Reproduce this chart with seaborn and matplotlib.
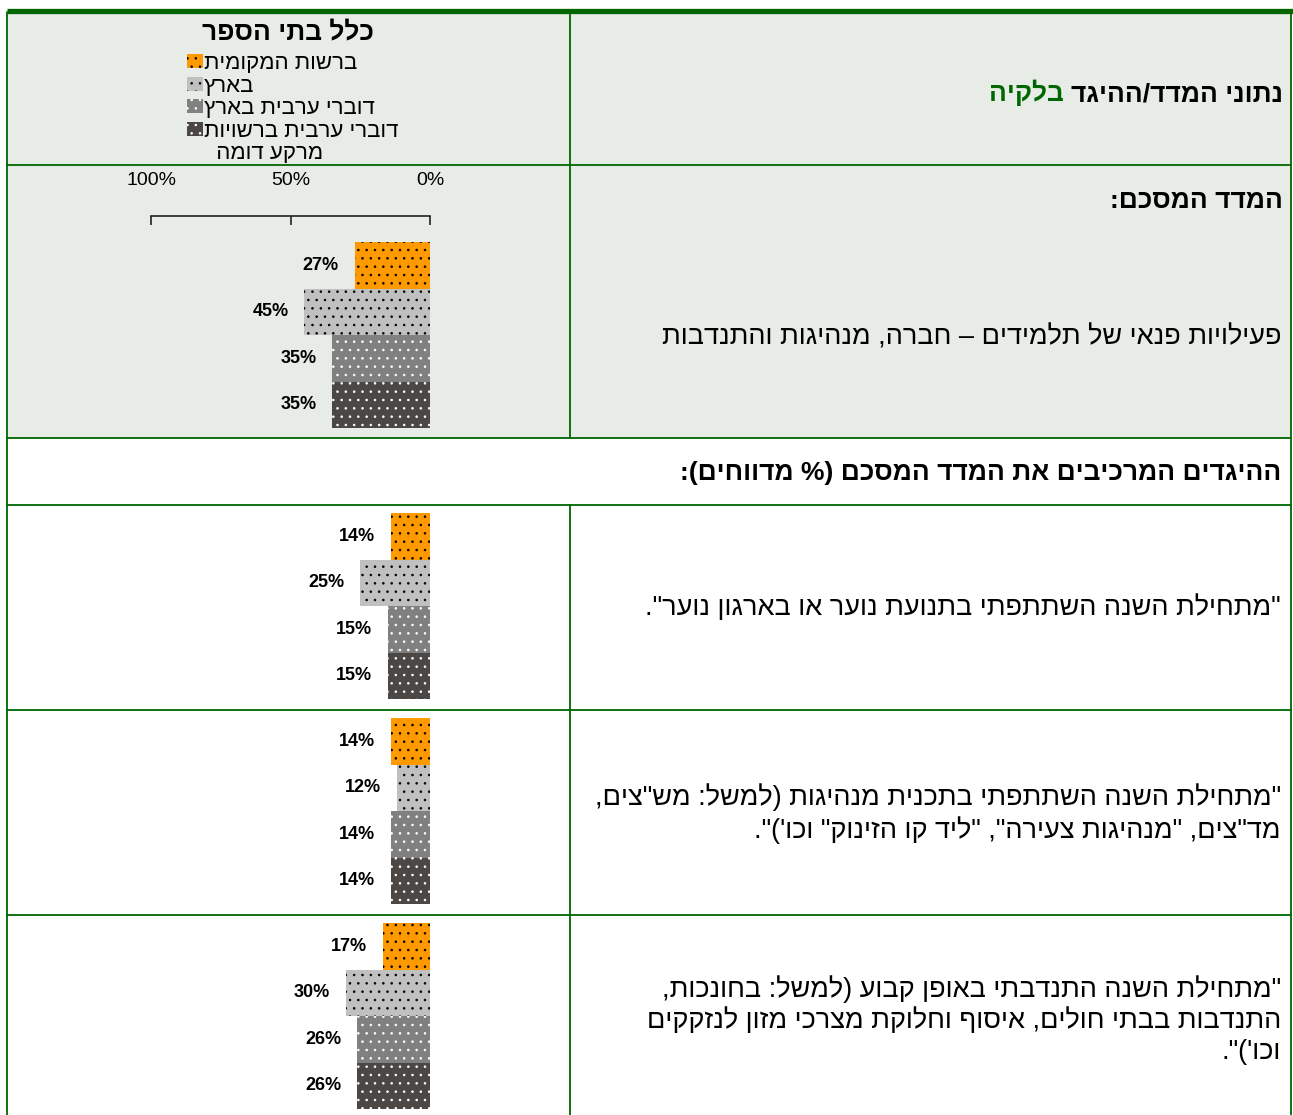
import matplotlib.pyplot as plt
from matplotlib.patches import Patch, Rectangle
import seaborn as sns
import pandas as pd

# --- data ---
groups = ['ברשות המקומית', 'בארץ', 'דוברי ערבית בארץ', 'דוברי ערבית ברשויות מרקע דומה']
legend_lines = ['ברשות המקומית', 'בארץ', 'דוברי ערבית בארץ', 'דוברי ערבית ברשויות', 'מרקע דומה']
bar_colors = ['#FF9900', '#C0C0C0', '#808080', '#4B4744']
dot_colors = ['black', 'black', 'white', 'white']

summary_values = [27, 45, 35, 35]
youth_values = [14, 25, 15, 15]
leader_values = [14, 12, 14, 14]
volunteer_values = [17, 30, 26, 26]

x_ticks = [100, 50, 0]
x_tick_labels = ['100%', '50%', '0%']

legend_title = 'כלל בתי הספר'
header_text = 'נתוני המדד/ההיגד'
header_town = 'בלקיה'
summary_title = 'המדד המסכם:'
summary_name = 'פעילויות פנאי של תלמידים – חברה, מנהיגות והתנדבות'
items_title = 'ההיגדים המרכיבים את המדד המסכם (% מדווחים):'
item_texts = [
    '"מתחילת השנה השתתפתי בתנועת נוער או בארגון נוער".',
    '"מתחילת השנה השתתפתי בתכנית מנהיגות (למשל: מש"צים,\nמד"צים, "מנהיגות צעירה", "ליד קו הזינוק" וכו\')".',
    '"מתחילת השנה התנדבתי באופן קבוע (למשל: בחונכות,\nהתנדבות בבתי חולים, איסוף וחלוקת מצרכי מזון לנזקקים\nוכו\')".',
]

GREEN = '#006600'
BG = '#E7ECE6'
W, H = 1293, 1115


def heb(s):
    # matplotlib has no bidi: reverse each line and mirror brackets
    swap = str.maketrans('()', ')(')
    return '\n'.join(line[::-1].translate(swap) for line in s.split('\n'))


sns.set_style('white')
plt.rcParams['font.family'] = ['Liberation Sans', 'DejaVu Sans']
plt.rcParams['text.color'] = 'black'
plt.rcParams['xtick.color'] = 'black'
plt.rcParams['hatch.linewidth'] = 0.6

fig = plt.figure(figsize=(W / 100, H / 100), dpi=100)

# background axes in pixel units for the table
ax0 = fig.add_axes([0, 0, 1, 1])
ax0.set_xlim(0, W)
ax0.set_ylim(H, 0)
ax0.axis('off')

ax0.add_patch(Rectangle((7, 13), 1291 - 7, 438 - 13, color=BG, lw=0))
ax0.plot([7, W], [10.5, 10.5], color=GREEN, lw=3.8, solid_capstyle='butt')
for y in [165, 438, 505, 710, 915]:
    ax0.plot([7, 1291], [y, y], color=GREEN, lw=1.3)
for x in [7, 1291]:
    ax0.plot([x, x], [12, H], color=GREEN, lw=1.3)
ax0.plot([570, 570], [12, 438], color=GREEN, lw=1.3)
ax0.plot([570, 570], [505, H], color=GREEN, lw=1.3)

# right column texts
t = ax0.text(1283, 106, heb(header_text), ha='right', va='bottom', fontsize=19, fontweight='bold')
ax0.annotate(heb(header_town), xy=(0, 0), xycoords=t, xytext=(-5, 0), textcoords='offset points',
             ha='right', va='bottom', fontsize=19, fontweight='bold', color=GREEN)
ax0.text(1283, 201, heb(summary_title), ha='right', va='center', fontsize=19, fontweight='bold')
ax0.text(1281, 337, heb(summary_name), ha='right', va='center', fontsize=19.5)
ax0.text(1281, 473, heb(items_title), ha='right', va='center', fontsize=19, fontweight='bold')
for yc, txt in zip([608, 814, 1020], item_texts):
    ax0.text(1281, yc, heb(txt), ha='right', va='center', fontsize=19.5,
             multialignment='right', linespacing=1.23)

# legend block
ax0.text(288, 32, heb(legend_title), ha='center', va='center', fontsize=19, fontweight='bold')
handles = [Patch(facecolor=c, edgecolor=d, hatch='..', linewidth=0) for c, d in zip(bar_colors, dot_colors)]
handles.append(Patch(facecolor='none', edgecolor='none'))
labels = [heb(s) for s in legend_lines]
labels[-1] = '  ' + labels[-1]
ax0.legend(handles, labels, loc='upper left', bbox_to_anchor=(187, 53), bbox_transform=ax0.transData,
           frameon=False, fontsize=16, handlelength=0.72, handleheight=0.6, handletextpad=0.03,
           labelspacing=0.07, borderpad=0, borderaxespad=0)


def px_axes(x0, y0, x1, y1):
    return fig.add_axes([x0 / W, 1 - y1 / H, (x1 - x0) / W, (y1 - y0) / H])


def draw_bars(ax, values):
    df = pd.DataFrame({'group': groups, 'value': values})
    sns.barplot(data=df, x='value', y='group', hue='group', palette=bar_colors, saturation=1,
                width=1.0, orient='h', legend=False, ax=ax)
    ax.set_xlim(100, 0)
    ax.set_ylim(3.5, -0.5)
    ax.patch.set_visible(False)
    for cont, dot in zip(ax.containers, dot_colors):
        for bar in cont:
            bar.set_hatch('..')
            bar.set_edgecolor(dot)
            bar.set_linewidth(0)
        ax.bar_label(cont, fmt='{:.0f}%', padding=11.5, fontsize=13, fontweight='bold')
    ax.set_xlabel('')
    ax.set_ylabel('')
    ax.set_yticks([])
    for s in ['left', 'right', 'bottom', 'top']:
        ax.spines[s].set_visible(False)
    ax.set_xticks([])


rows = [(242, 428, summary_values), (513, 699, youth_values),
        (718, 904, leader_values), (923, 1109, volunteer_values)]
axes = []
for y0, y1, vals in rows:
    ax = px_axes(151, y0, 430, y1)
    draw_bars(ax, vals)
    axes.append(ax)

# percent scale on the summary chart
ax = axes[0]
ax.spines['top'].set_visible(True)
ax.spines['top'].set_position(('outward', 18.7))
ax.spines['top'].set_color('#222222')
ax.spines['top'].set_linewidth(1.2)
ax.xaxis.tick_top()
ax.set_xticks(x_ticks, x_tick_labels)
ax.tick_params(axis='x', direction='in', length=6.5, width=1.2, pad=19.4, labelsize=14,
               color='#222222', top=True, bottom=False, labeltop=True, labelbottom=False)

plt.savefig('out.png', dpi=100)
